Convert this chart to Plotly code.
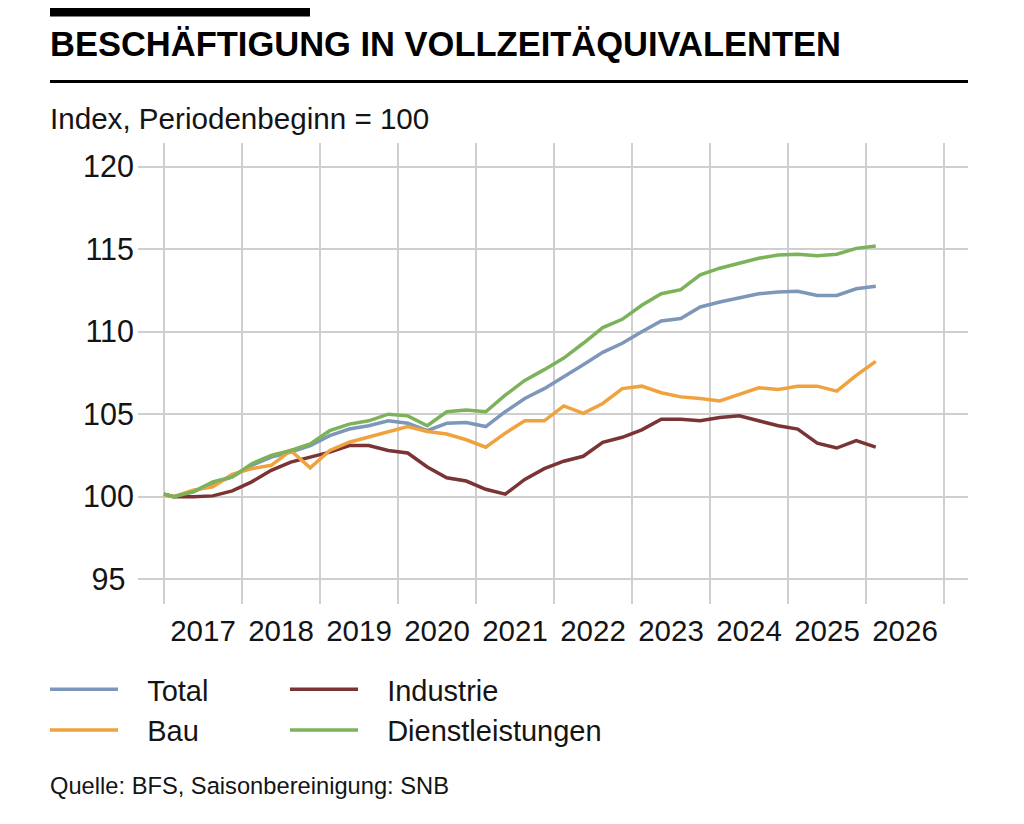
import plotly.graph_objects as go

# ---------------- data ----------------
years = [2017, 2018, 2019, 2020, 2021, 2022, 2023, 2024, 2025, 2026]
quarters = [f"{y}Q{q}" for y in range(2017, 2026) for q in range(1, 5)] + ["2026Q1"]

# first value = period start (plotted at the beginning of 2017), then quarterly values
total = [100.15, 100.0, 100.3, 100.8, 101.2, 101.9, 102.4, 102.7, 103.1, 103.7, 104.1, 104.3, 104.6,
         104.45, 104.0, 104.45, 104.5, 104.25, 105.15, 105.95, 106.55, 107.25, 108.0, 108.75,
         109.3, 110.0, 110.65, 110.8, 111.5, 111.8, 112.05, 112.3, 112.4, 112.45, 112.2, 112.2,
         112.6, 112.75]
bau = [100.1, 100.0, 100.4, 100.6, 101.35, 101.7, 101.9, 102.8, 101.75, 102.8, 103.3, 103.6, 103.9,
       104.25, 103.95, 103.8, 103.45, 103.0, 103.85, 104.6, 104.6, 105.5, 105.05, 105.65,
       106.55, 106.7, 106.3, 106.05, 105.95, 105.8, 106.2, 106.6, 106.5, 106.7, 106.7, 106.4,
       107.35, 108.2]
industrie = [100.15, 100.0, 100.0, 100.05, 100.35, 100.9, 101.6, 102.1, 102.4, 102.7, 103.1, 103.1, 102.8,
             102.65, 101.8, 101.15, 100.95, 100.45, 100.15, 101.05, 101.7, 102.15, 102.45, 103.3,
             103.6, 104.05, 104.7, 104.7, 104.6, 104.8, 104.9, 104.6, 104.3, 104.1, 103.25, 102.95,
             103.4, 103.0]
dienst = [100.15, 100.0, 100.3, 100.9, 101.2, 102.0, 102.5, 102.8, 103.2, 104.0, 104.4, 104.6, 105.0,
          104.9, 104.3, 105.15, 105.25, 105.15, 106.15, 107.05, 107.7, 108.4, 109.3, 110.25,
          110.75, 111.6, 112.3, 112.55, 113.45, 113.85, 114.15, 114.45, 114.65, 114.7, 114.6, 114.7,
          115.05, 115.2]

y_ticks = [95, 100, 105, 110, 115, 120]

series_names = ["Total", "Bau", "Industrie", "Dienstleistungen"]
colors = {"Total": "#7d97ba", "Bau": "#f0a23e", "Industrie": "#7a3434", "Dienstleistungen": "#7cb25a"}

# x positions: start of 2017, then mid-quarter positions (decimal years)
xs = [2017.0] + [int(q[:4]) + (int(q[-1]) - 1) * 0.25 + 0.125 for q in quarters]

# ---------------- layout geometry (pixels) ----------------
W, H = 1024, 824
PL, PR, PT, PB = 138, 968, 143, 604


def px2x(px):
    return (px - PL) / (PR - PL)


def py2y(py):
    return (PB - py) / (PB - PT)


FONT = "Liberation Sans, Arial, sans-serif"
TXT = "#141414"
GRID = "#cfcfcf"
PAD = "\u00a0\u00a0\u00a0"  # gap between legend line and legend text

fig = go.Figure()

data = {"Total": total, "Bau": bau, "Industrie": industrie, "Dienstleistungen": dienst}
legend_of = {"Total": ("legend", 1), "Bau": ("legend", 2), "Industrie": ("legend2", 1),
             "Dienstleistungen": ("legend2", 2)}
for name in ["Total", "Industrie", "Bau", "Dienstleistungen"]:
    lg, rank = legend_of[name]
    fig.add_trace(go.Scatter(
        x=xs, y=data[name], mode="lines", name=PAD + name,
        line=dict(color=colors[name], width=3.5),
        legend=lg, legendrank=rank,
        hovertemplate="%{y:.2f}<extra>" + name + "</extra>",
    ))

x_range = [2017 - (164 - PL) / 78.0, 2017 + (PR - 164) / 78.0]
y_range = [100 - (PB - 496.7) / 16.5, 100 + (496.7 - PT) / 16.5]

fig.update_layout(
    width=W, height=H,
    margin=dict(l=PL, r=W - PR, t=PT, b=H - PB, pad=0),
    paper_bgcolor="white", plot_bgcolor="white",
    font=dict(family=FONT, color=TXT, size=29),
    showlegend=True,
    xaxis=dict(
        range=x_range, tickmode="array",
        tickvals=[y + 0.5 for y in years], ticktext=[str(y) for y in years],
        showgrid=False, zeroline=False, showline=False, ticks="",
        tickfont=dict(size=29.5, color=TXT, family=FONT),
        ticklabelstandoff=6,
        minor=dict(tickmode="array", tickvals=years + [2027], showgrid=True,
                   gridcolor=GRID, gridwidth=1.5, ticks=""),
        fixedrange=True,
    ),
    yaxis=dict(
        range=y_range, tickmode="array", tickvals=y_ticks,
        ticktext=[("95\u00a0" if v == 95 else str(v)) for v in y_ticks],
        showgrid=True, gridcolor=GRID, gridwidth=1.5,
        zeroline=False, showline=False, ticks="",
        tickfont=dict(size=30.5, color=TXT, family=FONT),
        ticklabelstandoff=3,
        fixedrange=True,
    ),
    legend=dict(x=px2x(45), y=py2y(664), xanchor="left", yanchor="top",
                orientation="v", bgcolor="rgba(0,0,0,0)", font=dict(size=29, color=TXT),
                itemwidth=68, tracegroupgap=0, traceorder="normal"),
    legend2=dict(x=px2x(285), y=py2y(664), xanchor="left", yanchor="top",
                 orientation="v", bgcolor="rgba(0,0,0,0)", font=dict(size=29, color=TXT),
                 itemwidth=68, tracegroupgap=0, traceorder="normal"),
)

# title block
fig.add_shape(type="rect", xref="paper", yref="paper",
              x0=px2x(50), x1=px2x(310), y0=py2y(16.5), y1=py2y(8),
              fillcolor="black", line=dict(width=0), layer="above")
fig.add_shape(type="line", xref="paper", yref="paper",
              x0=px2x(50), x1=px2x(968), y0=py2y(81.5), y1=py2y(81.5),
              line=dict(color="black", width=3), layer="above")
fig.add_annotation(text="<b>BESCHÄFTIGUNG IN VOLLZEITÄQUIVALENTEN</b>",
                   xref="paper", yref="paper", x=px2x(48), y=py2y(44),
                   xanchor="left", yanchor="middle", showarrow=False,
                   font=dict(size=34.5, color="black", family=FONT))
fig.add_annotation(text="Index, Periodenbeginn = 100",
                   xref="paper", yref="paper", x=px2x(48), y=py2y(118),
                   xanchor="left", yanchor="middle", showarrow=False,
                   font=dict(size=29.6, color=TXT, family=FONT))
fig.add_annotation(text="Quelle: BFS, Saisonbereinigung: SNB",
                   xref="paper", yref="paper", x=px2x(48), y=py2y(786),
                   xanchor="left", yanchor="middle", showarrow=False,
                   font=dict(size=23.7, color=TXT, family=FONT))

fig.write_html("out.html")
